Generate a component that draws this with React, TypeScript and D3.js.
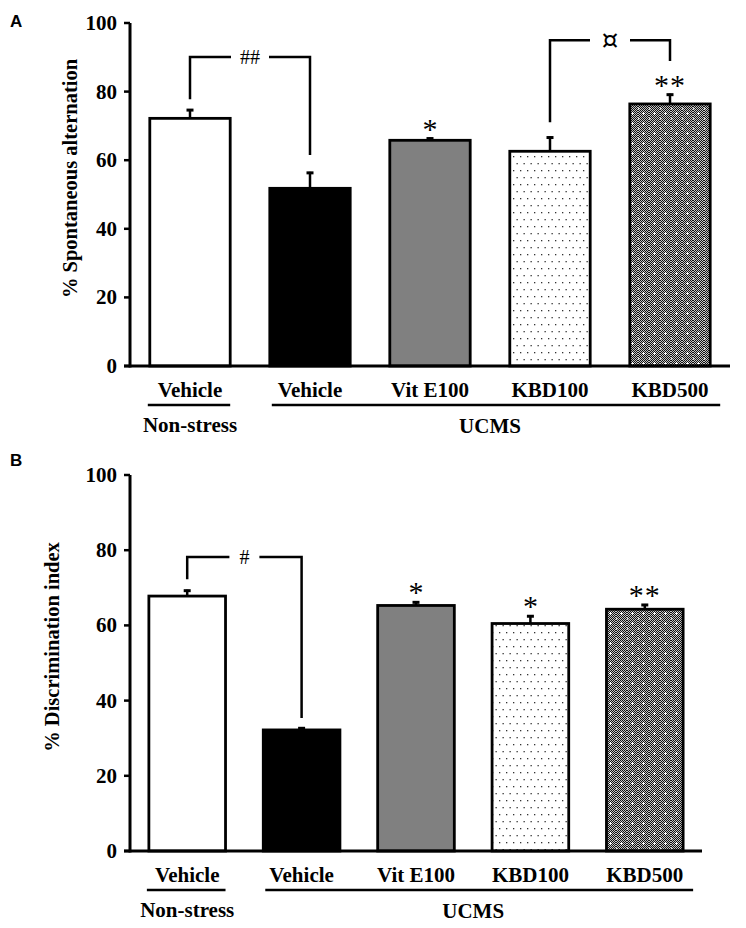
import * as d3 from "d3";

const groups = ["Vehicle", "Vehicle", "Vit E100", "KBD100", "KBD500"];
const fills = ["#ffffff", "#000000", "#808080", "url(#dots)", "url(#kbd500)"];
const yTicks = [0, 20, 40, 60, 80, 100];

// panel A: Y-maze
const alternationMean = [72.2, 51.8, 65.8, 62.6, 76.4];
const alternationErr = [2.7, 4.8, 0.8, 4.3, 3.0];
const alternationStars = ["", "", "*", "", "**"];

// panel B: novel object recognition
const discriminationMean = [67.8, 32.2, 65.3, 60.5, 64.3];
const discriminationErr = [1.7, 0.7, 1.1, 2.2, 1.4];
const discriminationStars = ["", "", "*", "*", "**"];

type Bracket = {
  from: number;
  to: number;
  top: number;
  leftEnd: number;
  rightEnd: number;
  label: string;
  gap: number;
};

const alternationBrackets: Bracket[] = [
  { from: 0, to: 1, top: 90.1, leftEnd: 77.8, rightEnd: 61.5, label: "##", gap: 19 },
  { from: 3, to: 4, top: 95.0, leftEnd: 71.1, rightEnd: 88.9, label: "¤", gap: 20 },
];
const discriminationBrackets: Bracket[] = [
  { from: 0, to: 1, top: 78.2, leftEnd: 72.3, rightEnd: 35.4, label: "#", gap: 15 },
];

const SERIF = "'Liberation Serif', 'Times New Roman', serif";

type PanelProps = {
  letter: string;
  letterY: number;
  top: number;
  bottom: number;
  left: number;
  right: number;
  title: string;
  titleX: number;
  means: number[];
  errs: number[];
  stars: string[];
  brackets: Bracket[];
};

const Panel = ({
  letter,
  letterY,
  top,
  bottom,
  left,
  right,
  title,
  titleX,
  means,
  errs,
  stars,
  brackets,
}: PanelProps) => {
  const y = d3.scaleLinear().domain([0, 100]).range([bottom, top]);
  const x = d3
    .scaleBand<number>()
    .domain(groups.map((_, i) => i))
    .range([left, right])
    .paddingInner(0.33)
    .paddingOuter(0.165);
  const bw = x.bandwidth();
  const cx = (i: number) => x(i)! + bw / 2;

  const ucmsStart = x(1)! + 2;
  const ucmsEnd = x(4)! + bw + 10;

  return (
    <g>
      <text
        x={10}
        y={letterY}
        fontFamily="'Liberation Sans', Arial, sans-serif"
        fontWeight="bold"
        fontSize={17}
      >
        {letter}
      </text>

      {/* y axis */}
      <line x1={left} x2={left} y1={y(0) + 1.5} y2={y(100)} stroke="#000" strokeWidth={3} />
      {yTicks.map((t) => (
        <g key={t}>
          <line x1={left - 6} x2={left} y1={y(t)} y2={y(t)} stroke="#000" strokeWidth={2.5} />
          <text
            x={left - 13}
            y={y(t)}
            textAnchor="end"
            dominantBaseline="central"
            fontFamily={SERIF}
            fontWeight="bold"
            fontSize={21}
          >
            {t}
          </text>
        </g>
      ))}
      <text
        transform={`translate(${titleX}, ${(top + bottom) / 2 - 16}) rotate(-90)`}
        textAnchor="middle"
        dominantBaseline="central"
        fontFamily={SERIF}
        fontWeight="bold"
        fontSize={20.5}
      >
        {title}
      </text>

      {/* bars */}
      {means.map((m, i) => {
        const x0 = x(i)!;
        const yt = y(m);
        const ye = y(m + errs[i]);
        return (
          <g key={i}>
            <line x1={cx(i)} x2={cx(i)} y1={yt} y2={ye} stroke="#000" strokeWidth={2.5} />
            <line x1={cx(i) - 3.5} x2={cx(i) + 3.5} y1={ye + 1} y2={ye + 1} stroke="#000" strokeWidth={3} />
            <rect
              x={x0}
              y={yt}
              width={bw}
              height={y(0) - yt}
              fill={fills[i]}
              stroke="#000"
              strokeWidth={2.8}
            />
            {stars[i] && (
              <text
                x={cx(i)}
                y={ye + 1}
                textAnchor="middle"
                fontFamily={SERIF}
                fontSize={30}
                letterSpacing={stars[i].length > 1 ? 1 : 0}
              >
                {stars[i]}
              </text>
            )}
          </g>
        );
      })}

      {/* x axis */}
      <line x1={left - 6} x2={right} y1={y(0)} y2={y(0)} stroke="#000" strokeWidth={3} />

      {/* brackets */}
      {brackets.map((b, k) => {
        const xa = cx(b.from);
        const xb = cx(b.to);
        const mid = (xa + xb) / 2;
        const yt = y(b.top);
        const isCurrency = b.label === "¤";
        return (
          <g key={k} stroke="#000" strokeWidth={2.5} fill="none">
            <path d={`M${xa},${y(b.leftEnd)}V${yt}H${mid - b.gap}`} />
            <path d={`M${mid + b.gap},${yt}H${xb}V${y(b.rightEnd)}`} />
            <text
              x={mid}
              y={yt}
              stroke="none"
              fill="#000"
              textAnchor="middle"
              dominantBaseline="central"
              fontFamily={isCurrency ? "'DejaVu Sans', sans-serif" : SERIF}
              fontSize={isCurrency ? 26 : 20}
            >
              {b.label}
            </text>
          </g>
        );
      })}

      {/* group labels */}
      {groups.map((g, i) => (
        <text
          key={i}
          x={cx(i)}
          y={bottom + 24}
          textAnchor="middle"
          dominantBaseline="central"
          fontFamily={SERIF}
          fontWeight="bold"
          fontSize={21}
        >
          {g}
        </text>
      ))}
      <line x1={x(0)! - 2} x2={x(0)! + bw} y1={bottom + 39} y2={bottom + 39} stroke="#000" strokeWidth={2.5} />
      <line x1={ucmsStart} x2={ucmsEnd} y1={bottom + 39} y2={bottom + 39} stroke="#000" strokeWidth={2.5} />
      <text
        x={cx(0)}
        y={bottom + 59}
        textAnchor="middle"
        dominantBaseline="central"
        fontFamily={SERIF}
        fontWeight="bold"
        fontSize={21}
      >
        Non-stress
      </text>
      <text
        x={(cx(2) + cx(3)) / 2}
        y={bottom + 60}
        textAnchor="middle"
        dominantBaseline="central"
        fontFamily={SERIF}
        fontWeight="bold"
        fontSize={21}
      >
        UCMS
      </text>
    </g>
  );
};

export default function App() {
  return (
    <svg
      width={746}
      height={928}
      style={{ position: "absolute", left: 0, top: 0, background: "#fff" }}
    >
      <defs>
        <pattern id="dots" width={7} height={14} patternUnits="userSpaceOnUse">
          <rect width={7} height={14} fill="#fff" />
          <rect x={2} y={2} width={1.3} height={1.3} fill="#333" />
          <rect x={5.5} y={9} width={1.3} height={1.3} fill="#333" />
        </pattern>
        <pattern id="checker" width={2} height={2} patternUnits="userSpaceOnUse">
          <rect width={2} height={2} fill="#c4c4c4" />
          <rect width={1} height={1} fill="#111" />
          <rect x={1} y={1} width={1} height={1} fill="#111" />
        </pattern>
        <pattern id="kbd500" width={11} height={10} patternUnits="userSpaceOnUse">
          <rect width={11} height={10} fill="url(#checker)" />
          <rect x={4} y={3} width={3} height={1} fill="#fff" />
          <rect x={5} y={2} width={1} height={3} fill="#fff" />
          <rect x={0} y={8} width={1.5} height={1.5} fill="#ddd" />
        </pattern>
      </defs>
      <Panel
        letter="A"
        letterY={27}
        top={23}
        bottom={366}
        left={130}
        right={730}
        title="% Spontaneous alternation"
        titleX={70}
        means={alternationMean}
        errs={alternationErr}
        stars={alternationStars}
        brackets={alternationBrackets}
      />
      <Panel
        letter="B"
        letterY={466}
        top={475}
        bottom={851}
        left={130}
        right={702}
        title="% Discrimination index"
        titleX={52}
        means={discriminationMean}
        errs={discriminationErr}
        stars={discriminationStars}
        brackets={discriminationBrackets}
      />
    </svg>
  );
}
